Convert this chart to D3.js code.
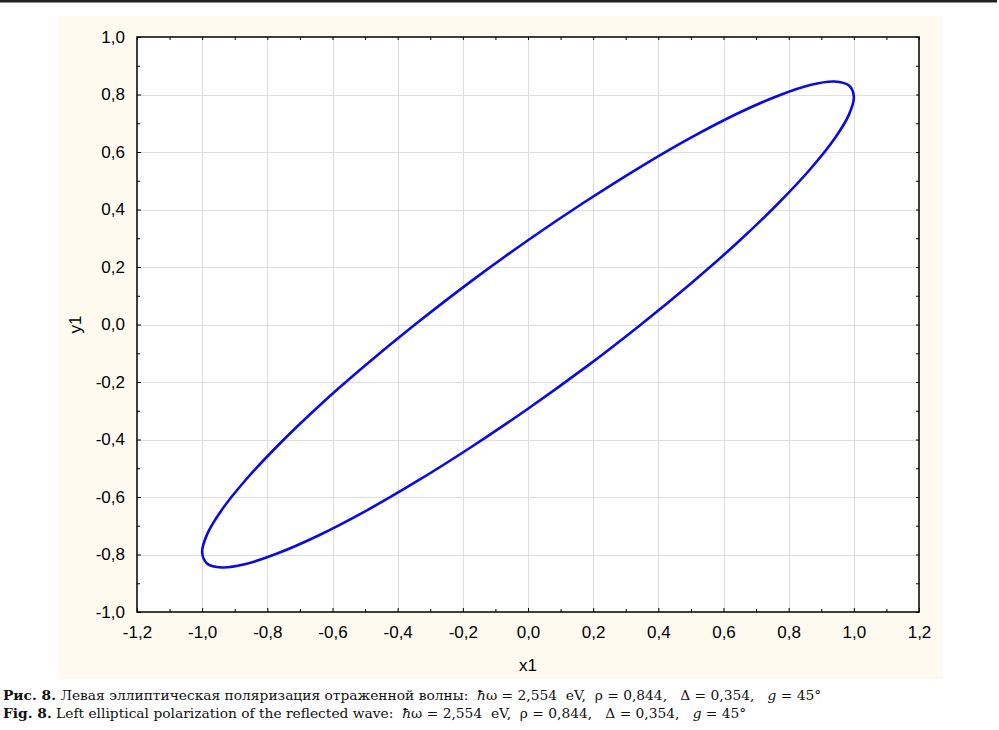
<!DOCTYPE html>
<html>
<head>
  <meta charset="utf-8">
  <title>ellipse</title>
  <style>
    body { margin: 0; background: #fff; }
    svg { display: block; }
  </style>
</head>
<body>
<script src="https://d3js.org/d3.v7.min.js"></script>
<script>
  var width = 999;
  var height = 730;

  // points of the ellipse (going round once)
  var xs = [1.000, 0.985, 0.940, 0.866, 0.766, 0.643, 0.500, 0.342, 0.174,
            0.000, -0.174, -0.342, -0.500, -0.643, -0.766, -0.866, -0.940, -0.985,
            -1.000, -0.985, -0.940, -0.866, -0.766, -0.643, -0.500, -0.342, -0.174,
            0.000, 0.174, 0.342, 0.500, 0.643, 0.766, 0.866, 0.940, 0.985];
  var ys = [0.793, 0.831, 0.845, 0.833, 0.795, 0.734, 0.650, 0.546, 0.426,
            0.293, 0.151, 0.004, -0.143, -0.285, -0.419, -0.540, -0.645, -0.730,
            -0.793, -0.831, -0.845, -0.833, -0.795, -0.734, -0.650, -0.546, -0.426,
            -0.293, -0.151, -0.004, 0.143, 0.285, 0.419, 0.540, 0.645, 0.730];

  var xTicks = [-1.2, -1.0, -0.8, -0.6, -0.4, -0.2, 0.0, 0.2, 0.4, 0.6, 0.8, 1.0, 1.2];
  var yTicks = [-1.0, -0.8, -0.6, -0.4, -0.2, 0.0, 0.2, 0.4, 0.6, 0.8, 1.0];

  var fmt = function(d) { return d3.format('.1f')(d).replace('.', ',').replace('−', '-'); };

  var svg = d3.select('body')
    .append('svg')
      .attr('width', width)
      .attr('height', height);

  // top rule
  svg.append('rect')
    .attr('x', 0).attr('y', 0)
    .attr('width', 997).attr('height', 2.5)
    .attr('fill', '#222');

  // cream panel
  svg.append('rect')
    .attr('x', 58).attr('y', 16)
    .attr('width', 884).attr('height', 663)
    .attr('fill', '#fefaf0');

  var pLeft = 137, pTop = 37, pRight = 919, pBottom = 612;

  var x = d3.scaleLinear().domain([-1.2, 1.2]).range([pLeft, pRight]);
  var y = d3.scaleLinear().domain([-1.0, 1.0]).range([pBottom, pTop]);

  svg.append('rect')
    .attr('x', pLeft).attr('y', pTop)
    .attr('width', pRight - pLeft).attr('height', pBottom - pTop)
    .attr('fill', '#fff');

  // grid
  svg.append('g').selectAll('line')
    .data(xTicks.slice(1, -1))
    .enter().append('line')
      .attr('x1', function(d) { return Math.round(x(d)) + 0.5; })
      .attr('x2', function(d) { return Math.round(x(d)) + 0.5; })
      .attr('y1', pTop).attr('y2', pBottom)
      .attr('stroke', '#dedede');
  svg.append('g').selectAll('line')
    .data(yTicks.slice(1, -1))
    .enter().append('line')
      .attr('y1', function(d) { return Math.round(y(d)) + 0.5; })
      .attr('y2', function(d) { return Math.round(y(d)) + 0.5; })
      .attr('x1', pLeft).attr('x2', pRight)
      .attr('stroke', '#dedede');

  // axes, ticks pointing inward
  var xMinor = d3.range(-11, 12, 2).map(function(k) { return k / 10; });
  var yMinor = d3.range(-9, 10, 2).map(function(k) { return k / 10; });

  var axisStyle = function(g) {
    g.select('.domain').remove();
    g.selectAll('.tick line').attr('stroke', '#000');
    g.selectAll('text').attr('font-family', 'Liberation Sans, Arial, sans-serif')
      .attr('font-size', 17).attr('fill', '#000');
  };

  svg.append('g').attr('transform', 'translate(0,' + pBottom + ')')
    .call(d3.axisBottom(x).tickValues(xTicks).tickFormat(fmt).tickSizeInner(-4).tickPadding(14))
    .call(axisStyle);
  svg.append('g').attr('transform', 'translate(0,' + pBottom + ')')
    .call(d3.axisBottom(x).tickValues(xMinor).tickFormat('').tickSizeInner(-3))
    .call(axisStyle);
  svg.append('g').attr('transform', 'translate(0,' + pTop + ')')
    .call(d3.axisTop(x).tickValues(xTicks.concat(xMinor)).tickFormat('').tickSizeInner(-3))
    .call(axisStyle);

  svg.append('g').attr('transform', 'translate(' + pLeft + ',0)')
    .call(d3.axisLeft(y).tickValues(yTicks).tickFormat(fmt).tickSizeInner(-4).tickPadding(12))
    .call(axisStyle);
  svg.append('g').attr('transform', 'translate(' + pLeft + ',0)')
    .call(d3.axisLeft(y).tickValues(yMinor).tickFormat('').tickSizeInner(-3))
    .call(axisStyle);
  svg.append('g').attr('transform', 'translate(' + pRight + ',0)')
    .call(d3.axisRight(y).tickValues(yTicks.concat(yMinor)).tickFormat('').tickSizeInner(-3))
    .call(axisStyle);

  // frame
  svg.append('rect')
    .attr('x', pLeft).attr('y', pTop)
    .attr('width', pRight - pLeft).attr('height', pBottom - pTop)
    .attr('fill', 'none')
    .attr('stroke', '#000')
    .attr('stroke-width', 1.5);

  // the ellipse
  var pts = xs.map(function(d, i) { return [d, ys[i]]; });
  var line = d3.line()
    .x(function(d) { return x(d[0]); })
    .y(function(d) { return y(d[1]); })
    .curve(d3.curveCatmullRomClosed.alpha(0.5));

  svg.append('path')
    .attr('d', line(pts))
    .attr('fill', 'none')
    .attr('stroke', '#0a0ae6')
    .attr('stroke-width', 2.6);

  // axis titles
  svg.append('text')
    .attr('x', (pLeft + pRight) / 2).attr('y', 671)
    .attr('text-anchor', 'middle')
    .attr('font-family', 'Liberation Sans, Arial, sans-serif')
    .attr('font-size', 17)
    .text('x1');
  svg.append('text')
    .attr('transform', 'translate(81,' + y(0) + ') rotate(-90)')
    .attr('text-anchor', 'middle')
    .attr('font-family', 'Liberation Sans, Arial, sans-serif')
    .attr('font-size', 17)
    .text('y1');

  // caption
  var caption = [
    { bold: 'Рис. 8.', text: ' Левая эллиптическая поляризация отраженной волны:  ' },
    { bold: 'Fig. 8.', text: ' Left elliptical polarization of the reflected wave:  ' }
  ];
  var cap = svg.append('g')
    .attr('font-family', 'DejaVu Serif, serif')
    .attr('font-size', 13.8)
    .attr('fill', '#111');

  caption.forEach(function(c, i) {
    var t = cap.append('text')
      .attr('x', 3).attr('y', 700 + i * 18)
      .attr('xml:space', 'preserve')
      .style('white-space', 'pre');
    t.append('tspan').attr('font-weight', 'bold').text(c.bold);
    t.append('tspan').text(c.text);
    t.append('tspan').attr('font-style', 'italic').text('ħ');
    t.append('tspan').text('ω = 2,554  eV,  ρ = 0,844,   Δ = 0,354,   ');
    t.append('tspan').attr('font-style', 'italic').text('g');
    t.append('tspan').text(' = 45°');
  });
</script>
</body>
</html>
